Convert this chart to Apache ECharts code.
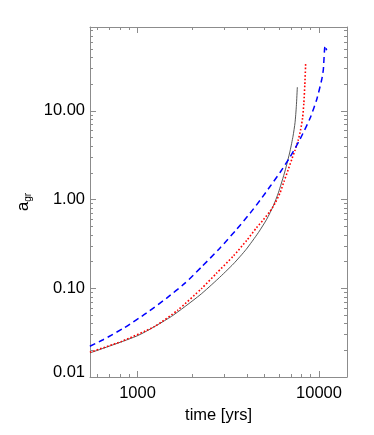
<!DOCTYPE html>
<html>
<head>
<meta charset="utf-8">
<script src="https://cdn.jsdelivr.net/npm/echarts@6/dist/echarts.min.js"></script>
<style>
  html, body { margin: 0; padding: 0; background: #fff; }
  #chart { width: 374px; height: 435px; }
</style>
</head>
<body>
<div id="chart"></div>
<script>
// curves (time in yrs, a_gr)
var solidTime  = [547, 1007, 1535, 2208, 2776, 3372, 3961, 4630, 5150, 5601, 5968, 6496, 6922, 7190, 7376, 7498, 7594];
var solidValue = [0.0187, 0.0294, 0.0481, 0.0840, 0.1276, 0.1879, 0.2732, 0.4235, 0.600, 0.850, 1.189, 2.096, 3.513, 5.172, 7.364, 11.22, 18.46];

var dotTime  = [546, 815, 1244, 1671, 2258, 2718, 3372, 4000, 4537, 4934, 5370, 5723, 6097, 6415, 6750, 7100, 7376, 7662, 7909, 8112, 8247, 8352, 8447];
var dotValue = [0.0190, 0.0252, 0.0372, 0.0570, 0.0998, 0.147, 0.231, 0.347, 0.484, 0.592, 0.738, 0.907, 1.189, 1.599, 2.151, 2.894, 3.605, 4.606, 6.039, 8.232, 12.12, 19.79, 35.17];

var dashTime  = [546, 646, 850, 1118, 1442, 1820, 2259, 2848, 3522, 4168, 4731, 5370, 6097, 6922, 7859, 8920, 9712, 10349, 10561, 10792, 11020];
var dashValue = [0.0222, 0.0263, 0.0362, 0.0524, 0.0771, 0.1135, 0.175, 0.2846, 0.4636, 0.7003, 0.9795, 1.402, 2.018, 3.009, 4.786, 8.230, 13.44, 22.51, 29.14, 54.12, 48.0];

// axes
var xRange = [547, 14260];
var yRange = [0.01, 88];
var xMajor = [1000, 10000];
var xLabels = ['1000', '10000'];
var xMinor = [600, 700, 800, 900, 2000, 3000, 4000, 5000, 6000, 7000, 8000, 9000];
var yMajor = [0.01, 0.1, 1, 10];
var yLabels = ['0.01', '0.10', '1.00', '10.00'];
var yMinor = [0.02, 0.03, 0.04, 0.05, 0.06, 0.07, 0.08, 0.09,
              0.2, 0.3, 0.4, 0.5, 0.6, 0.7, 0.8, 0.9,
              2, 3, 4, 5, 6, 7, 8, 9,
              20, 30, 40, 50, 60, 70, 80];

var lg = function (v) { return Math.log10(v); };
var FONT = '"Liberation Sans", Arial, Helvetica, sans-serif';
var frame = '#8c8c8c';

function pairs(ts, vs) {
    return ts.map(function (t, i) { return [lg(t), lg(vs[i])]; });
}

function findLabel(vals, labels, v) {
    for (var i = 0; i < vals.length; i++) {
        if (Math.abs(lg(vals[i]) - v) < 1e-6) return labels[i];
    }
    return '';
}

function xAx(pos, major, withLabel) {
    return {
        type: 'value',
        position: pos,
        min: lg(xRange[0]),
        max: lg(xRange[1]),
        splitLine: { show: false },
        axisLine: { show: major, onZero: false, lineStyle: { color: frame, width: 1 } },
        axisTick: {
            show: true, inside: true, length: major ? 6 : 3,
            customValues: (major ? xMajor : xMinor).map(lg),
            lineStyle: { color: frame, width: 1 }
        },
        axisLabel: withLabel ? {
            show: true,
            customValues: xMajor.map(lg),
            margin: 8,
            color: '#000',
            fontSize: 16.5,
            fontFamily: FONT,
            formatter: function (v) { return findLabel(xMajor, xLabels, v); }
        } : { show: false },
        name: withLabel ? 'time [yrs]' : '',
        nameLocation: 'middle',
        nameGap: 26,
        nameTextStyle: { color: '#000', fontSize: 16.5, fontFamily: FONT }
    };
}

function yAx(pos, major, withLabel) {
    return {
        type: 'value',
        position: pos,
        min: lg(yRange[0]),
        max: lg(yRange[1]),
        splitLine: { show: false },
        axisLine: { show: major, onZero: false, lineStyle: { color: frame, width: 1 } },
        axisTick: {
            show: true, inside: true, length: major ? 6 : 3,
            customValues: (major ? yMajor : yMinor).map(lg),
            lineStyle: { color: frame, width: 1 }
        },
        axisLabel: withLabel ? {
            show: true,
            customValues: yMajor.map(lg),
            margin: 5,
            color: '#000',
            fontSize: 16.5,
            fontFamily: FONT,
            formatter: function (v) {
                var s = findLabel(yMajor, yLabels, v);
                return v === lg(yRange[0]) ? '{low|' + s + '}' : s;
            },
            rich: { low: { fontSize: 16.5, fontFamily: FONT, color: '#000', padding: [0, 0, 9, 0] } }
        } : { show: false },
        name: withLabel ? '{a|a}{s|gr}' : '',
        nameLocation: 'middle',
        nameRotate: 90,
        nameGap: 56,
        nameTextStyle: {
            rich: {
                a: { fontSize: 16.5, fontFamily: FONT, color: '#000' },
                s: { fontSize: 10, fontFamily: FONT, color: '#000', padding: [9, 0, 0, 0] }
            }
        }
    };
}

var chart = echarts.init(document.getElementById('chart'), null, { renderer: 'canvas' });

chart.setOption({
    animation: false,
    backgroundColor: '#fff',
    grid: { left: 90, right: 27, top: 27, bottom: 58, containLabel: false, outerBoundsMode: 'none' },
    xAxis: [xAx('bottom', true, true), xAx('bottom', false, false), xAx('top', true, false), xAx('top', false, false)],
    yAxis: [yAx('left', true, true), yAx('left', false, false), yAx('right', true, false), yAx('right', false, false)],
    series: [
        {
            type: 'line', name: 'solid', data: pairs(solidTime, solidValue),
            showSymbol: false, smooth: 0.2, clip: true,
            lineStyle: { color: '#444', width: 0.9, type: 'solid' }
        },
        {
            type: 'line', name: 'dotted', data: pairs(dotTime, dotValue),
            showSymbol: false, smooth: 0.2, clip: true,
            lineStyle: { color: '#ff0000', width: 1.6, type: [1.6, 2] }
        },
        {
            type: 'line', name: 'dashed', data: pairs(dashTime, dashValue),
            showSymbol: false, smooth: 0.2, clip: true,
            lineStyle: { color: '#0000ff', width: 1.5, type: [6, 4] }
        }
    ]
});
</script>
</body>
</html>
